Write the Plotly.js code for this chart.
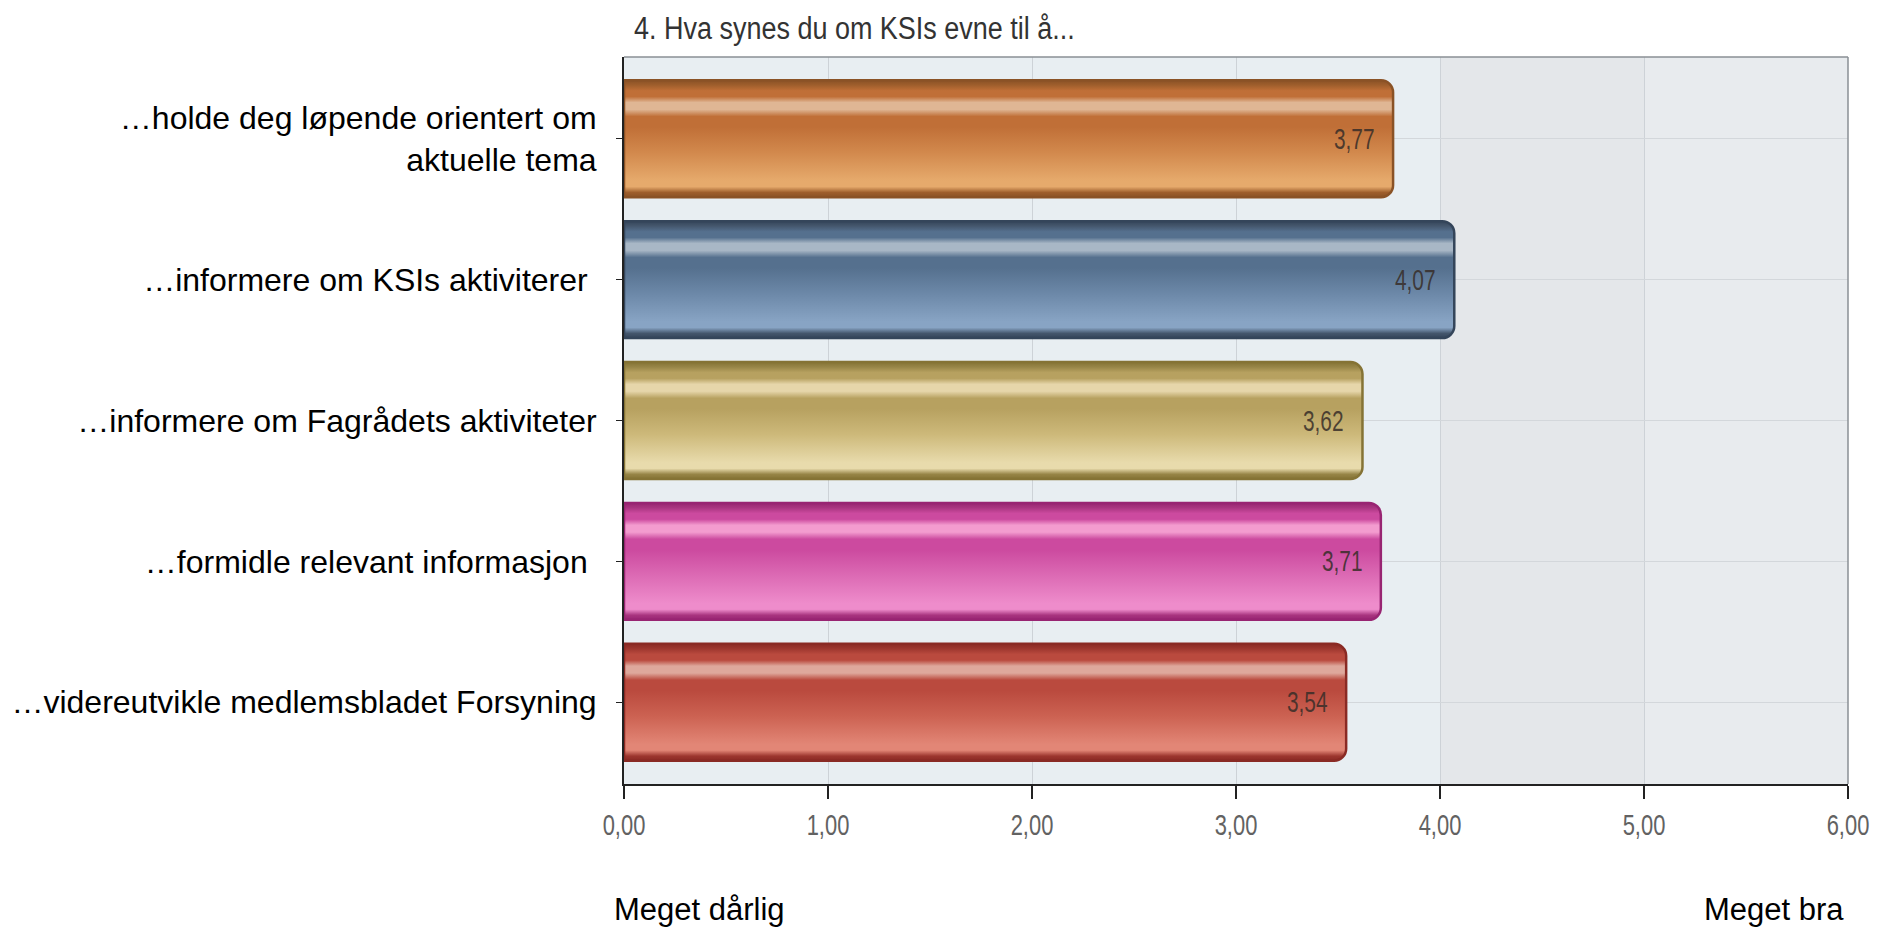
<!DOCTYPE html>
<html>
<head>
<meta charset="utf-8">
<script src="https://cdn.plot.ly/plotly-3.0.1.min.js"></script>
<style>html,body{margin:0;padding:0;background:#fff;}#chart{width:1886px;height:931px;}</style>
</head>
<body>
<svg id="gradDefs" width="0" height="0" style="position:absolute"><defs id="gradHolder"></defs></svg>
<div id="chart"></div>
<script>
// ---- data ----
var categories = [
  "…holde deg løpende orientert om<br>aktuelle tema",
  "…informere om KSIs aktiviterer ",
  "…informere om Fagrådets aktiviteter",
  "…formidle relevant informasjon ",
  "…videreutvikle medlemsbladet Forsyning"
];
var values = [3.77, 4.07, 3.62, 3.71, 3.54];
var tickValues = [0, 1, 2, 3, 4, 5, 6];
var tickLabels = ["0,00", "1,00", "2,00", "3,00", "4,00", "5,00", "6,00"];
var chartTitle = "4. Hva synes du om KSIs evne til å...";
var lowLabel = "Meget dårlig";
var highLabel = "Meget bra";

// ---- styles ----
var edgeColors  = ["#8a5226", "#34455a", "#857335", "#982472", "#8a2a24"];
var topColors   = ["#9e5e2c", "#44566c", "#968446", "#a8347f", "#9c362e"];
var glossColors = ["#dfb694", "#a8b7c6", "#e6d6aa", "#f39ccf", "#dea89c"];
var midColors   = ["#c06f37", "#55708e", "#b7a160", "#cc4a9f", "#ba4a3e"];
var midLight    = ["#d2894d", "#6c88a8", "#cdb97a", "#dc6ab4", "#cc6252"];
var lightColors = ["#e6aa6c", "#88a4c4", "#e8dbac", "#ee8ccb", "#e28676"];

var sans = '"Liberation Sans", Arial, sans-serif';
var narrowSquash = {title: 0.87, tick: 0.73, value: 0.72};

var barTrace = {
  type: "bar", orientation: "h", x: values, y: categories,
  width: 0.83,
  marker: {color: midColors, line: {color: edgeColors, width: 2.5}, cornerradius: 12},
  hoverinfo: "skip", showlegend: false
};

var annotations = values.map(function (v, i) {
  return {
    x: v, y: categories[i], xref: "x", yref: "y",
    text: v.toFixed(2).replace(".", ","),
    showarrow: false, xanchor: "right", yanchor: "middle", xshift: -9,
    font: {family: sans, size: 29, color: "rgba(55,45,40,0.85)"}
  };
});
annotations.push({
  xref: "paper", yref: "paper", x: 0, y: -0.173, xanchor: "left", yanchor: "middle",
  xshift: -12, text: lowLabel, showarrow: false,
  font: {family: sans, size: 31, color: "#000"}
});
annotations.push({
  xref: "paper", yref: "paper", x: 1, y: -0.173, xanchor: "right", yanchor: "middle",
  xshift: -2, text: highLabel, showarrow: false,
  font: {family: sans, size: 31, color: "#000"}
});

var layout = {
  width: 1886, height: 931,
  margin: {l: 624, r: 38, t: 57, b: 147, pad: 0},
  paper_bgcolor: "#ffffff",
  plot_bgcolor: "#e8eef2",
  showlegend: false,
  title: {
    text: chartTitle, xref: "container", yref: "container",
    x: 634 / 1886, xanchor: "left", y: 1 - 28 / 931, yanchor: "middle",
    font: {family: sans, size: 31, color: "#333"}
  },
  xaxis: {
    range: [0, 6], tickvals: tickValues, ticktext: tickLabels,
    showgrid: true, gridcolor: "#cdd2d7", gridwidth: 1,
    zeroline: false,
    showline: true, linecolor: "#222", linewidth: 2,
    ticks: "outside", ticklen: 13, tickcolor: "#222", tickwidth: 1.5,
    ticklabelstandoff: 0,
    tickfont: {family: sans, size: 30, color: "#626262"},
    fixedrange: true
  },
  yaxis: {
    type: "category", range: [4.58, -0.58],
    showgrid: true, gridcolor: "#d3d7db", gridwidth: 1,
    zeroline: false,
    showline: true, linecolor: "#222", linewidth: 2,
    ticks: "outside", ticklen: 6, tickcolor: "#222",
    ticklabelstandoff: 13,
    tickfont: {family: sans, size: 32, color: "#000"},
    fixedrange: true
  },
  shapes: [
    {type: "rect", xref: "x", yref: "paper", x0: 4, x1: 5, y0: 0, y1: 1,
     fillcolor: "#e4e7ea", line: {width: 0}, layer: "below"},
    {type: "rect", xref: "x", yref: "paper", x0: 5, x1: 6, y0: 0, y1: 1,
     fillcolor: "#e8ebee", line: {width: 0}, layer: "below"},
    {type: "line", xref: "paper", yref: "paper", x0: 0, x1: 1, y0: 1, y1: 1,
     line: {color: "#8a8f94", width: 1.5}},
    {type: "line", xref: "paper", yref: "paper", x0: 1, x1: 1, y0: 0, y1: 1,
     line: {color: "#8a8f94", width: 1.5}}
  ],
  annotations: annotations
};

function buildGradients() {
  var ns = "http://www.w3.org/2000/svg";
  var holder = document.getElementById("gradHolder");
  for (var i = 0; i < values.length; i++) {
    var g = document.createElementNS(ns, "linearGradient");
    g.setAttribute("id", "barGrad" + i);
    g.setAttribute("x1", "0"); g.setAttribute("y1", "0");
    g.setAttribute("x2", "0"); g.setAttribute("y2", "1");
    var stops = [
      [0.00, edgeColors[i]], [0.04, topColors[i]], [0.09, midColors[i]],
      [0.14, midColors[i]], [0.19, glossColors[i]], [0.25, glossColors[i]],
      [0.31, midColors[i]], [0.40, midColors[i]], [0.62, midLight[i]],
      [0.86, lightColors[i]], [0.91, lightColors[i]], [0.96, topColors[i]],
      [1.00, edgeColors[i]]
    ];
    stops.forEach(function (s) {
      var st = document.createElementNS(ns, "stop");
      st.setAttribute("offset", s[0]);
      st.setAttribute("stop-color", s[1]);
      g.appendChild(st);
    });
    holder.appendChild(g);
  }
}

function squash(sel, f) {
  document.querySelectorAll(sel).forEach(function (t) {
    var w = t.getComputedTextLength();
    if (w > 0) {
      t.setAttribute("textLength", (w * f).toFixed(2));
      t.setAttribute("lengthAdjust", "spacingAndGlyphs");
    }
  });
}

buildGradients();
Plotly.newPlot("chart", [barTrace], layout, {displayModeBar: false, staticPlot: true}).then(function (gd) {
  var paths = gd.querySelectorAll(".barlayer .point path");
  paths.forEach(function (p, i) { p.style.fill = "url(#barGrad" + i + ")"; });
  squash(".gtitle", narrowSquash.title);
  squash(".xtick text", narrowSquash.tick);
  var ann = gd.querySelectorAll(".annotation-text");
  for (var i = 0; i < values.length && i < ann.length; i++) {
    var w = ann[i].getComputedTextLength();
    ann[i].setAttribute("textLength", (w * narrowSquash.value).toFixed(2));
    ann[i].setAttribute("lengthAdjust", "spacingAndGlyphs");
  }
});
</script>
</body>
</html>
